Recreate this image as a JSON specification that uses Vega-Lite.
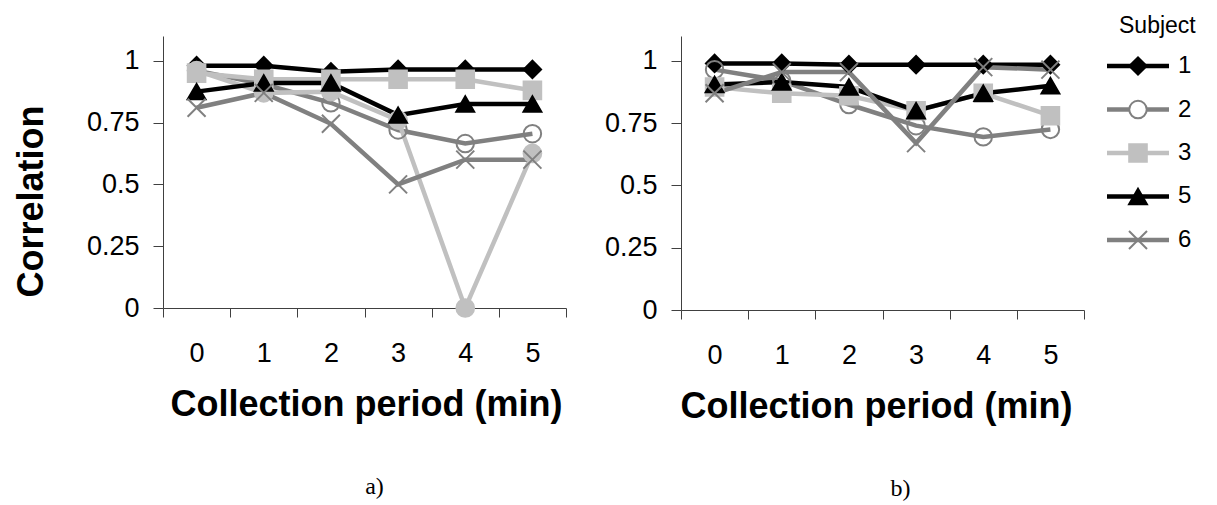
{
  "$schema": "https://vega.github.io/schema/vega-lite/v6.json",
  "background": "white",
  "padding": {"left": 13, "top": 15, "right": 5, "bottom": 5},
  "bounds": "flush",
  "spacing": 115,
  "datasets": {
    "corr": [
      {"panel": "a", "subject": "1", "period": 0, "r": 0.98},
      {"panel": "a", "subject": "1", "period": 1, "r": 0.98},
      {"panel": "a", "subject": "1", "period": 2, "r": 0.955},
      {"panel": "a", "subject": "1", "period": 3, "r": 0.965},
      {"panel": "a", "subject": "1", "period": 4, "r": 0.965},
      {"panel": "a", "subject": "1", "period": 5, "r": 0.965},
      {"panel": "a", "subject": "2", "period": 0, "r": 0.96},
      {"panel": "a", "subject": "2", "period": 1, "r": 0.905},
      {"panel": "a", "subject": "2", "period": 2, "r": 0.83},
      {"panel": "a", "subject": "2", "period": 3, "r": 0.72},
      {"panel": "a", "subject": "2", "period": 4, "r": 0.665},
      {"panel": "a", "subject": "2", "period": 5, "r": 0.705},
      {"panel": "a", "subject": "3", "period": 0, "r": 0.95},
      {"panel": "a", "subject": "3", "period": 1, "r": 0.925},
      {"panel": "a", "subject": "3", "period": 2, "r": 0.925},
      {"panel": "a", "subject": "3", "period": 3, "r": 0.925},
      {"panel": "a", "subject": "3", "period": 4, "r": 0.925},
      {"panel": "a", "subject": "3", "period": 5, "r": 0.88},
      {"panel": "a", "subject": "4", "period": 0, "r": 0.96},
      {"panel": "a", "subject": "4", "period": 1, "r": 0.87},
      {"panel": "a", "subject": "4", "period": 2, "r": 0.875},
      {"panel": "a", "subject": "4", "period": 3, "r": 0.76},
      {"panel": "a", "subject": "4", "period": 4, "r": 0.0},
      {"panel": "a", "subject": "4", "period": 5, "r": 0.625},
      {"panel": "a", "subject": "5", "period": 0, "r": 0.875},
      {"panel": "a", "subject": "5", "period": 1, "r": 0.91},
      {"panel": "a", "subject": "5", "period": 2, "r": 0.91},
      {"panel": "a", "subject": "5", "period": 3, "r": 0.78},
      {"panel": "a", "subject": "5", "period": 4, "r": 0.825},
      {"panel": "a", "subject": "5", "period": 5, "r": 0.825},
      {"panel": "a", "subject": "6", "period": 0, "r": 0.81},
      {"panel": "a", "subject": "6", "period": 1, "r": 0.87},
      {"panel": "a", "subject": "6", "period": 2, "r": 0.745},
      {"panel": "a", "subject": "6", "period": 3, "r": 0.5},
      {"panel": "a", "subject": "6", "period": 4, "r": 0.6},
      {"panel": "a", "subject": "6", "period": 5, "r": 0.6},
      {"panel": "b", "subject": "1", "period": 0, "r": 0.99},
      {"panel": "b", "subject": "1", "period": 1, "r": 0.99},
      {"panel": "b", "subject": "1", "period": 2, "r": 0.985},
      {"panel": "b", "subject": "1", "period": 3, "r": 0.985},
      {"panel": "b", "subject": "1", "period": 4, "r": 0.985},
      {"panel": "b", "subject": "1", "period": 5, "r": 0.985},
      {"panel": "b", "subject": "2", "period": 0, "r": 0.965},
      {"panel": "b", "subject": "2", "period": 1, "r": 0.92},
      {"panel": "b", "subject": "2", "period": 2, "r": 0.825},
      {"panel": "b", "subject": "2", "period": 3, "r": 0.74},
      {"panel": "b", "subject": "2", "period": 4, "r": 0.695},
      {"panel": "b", "subject": "2", "period": 5, "r": 0.725},
      {"panel": "b", "subject": "3", "period": 0, "r": 0.895},
      {"panel": "b", "subject": "3", "period": 1, "r": 0.87},
      {"panel": "b", "subject": "3", "period": 2, "r": 0.86},
      {"panel": "b", "subject": "3", "period": 3, "r": 0.8},
      {"panel": "b", "subject": "3", "period": 4, "r": 0.87},
      {"panel": "b", "subject": "3", "period": 5, "r": 0.78},
      {"panel": "b", "subject": "5", "period": 0, "r": 0.905},
      {"panel": "b", "subject": "5", "period": 1, "r": 0.915},
      {"panel": "b", "subject": "5", "period": 2, "r": 0.895},
      {"panel": "b", "subject": "5", "period": 3, "r": 0.8},
      {"panel": "b", "subject": "5", "period": 4, "r": 0.87},
      {"panel": "b", "subject": "5", "period": 5, "r": 0.9},
      {"panel": "b", "subject": "6", "period": 0, "r": 0.87},
      {"panel": "b", "subject": "6", "period": 1, "r": 0.955},
      {"panel": "b", "subject": "6", "period": 2, "r": 0.955},
      {"panel": "b", "subject": "6", "period": 3, "r": 0.67},
      {"panel": "b", "subject": "6", "period": 4, "r": 0.975},
      {"panel": "b", "subject": "6", "period": 5, "r": 0.965}
    ],
    "legend": [
      {"subject": "1"}, {"subject": "2"}, {"subject": "3"}, {"subject": "5"}, {"subject": "6"}
    ]
  },
  "resolve": {"scale": {"x": "independent", "y": "independent"}},
  "hconcat": [
    {
      "width": 403,
      "height": 272,
      "data": {"name": "corr"},
      "transform": [{"filter": "datum.panel == 'a'"}],
      "title": {"text": "a)", "orient": "bottom", "frame": "group", "anchor": "middle", "font": "Liberation Serif", "fontSize": 24, "fontWeight": "normal", "offset": 53, "dx": 10, "color": "#000"},
      "encoding": {
        "x": {"field": "period", "type": "ordinal", "scale": {"type": "band", "paddingInner": 0, "paddingOuter": 0},
              "axis": {"title": "Collection period (min)", "tickBand": "extent", "titleX": 203, "titleY": 107, "titleBaseline": "alphabetic"}},
        "y": {"field": "r", "type": "quantitative", "scale": {"domain": [0, 1.1], "nice": false},
              "axis": {"title": "Correlation", "values": [0, 0.25, 0.5, 0.75, 1], "format": ".2~f", "titleX": -121, "titleY": 165, "titleBaseline": "alphabetic", "titleAngle": -90, "titleAlign": "center"}}
      },
      "layer": [
        {"mark": {"type": "line"},
         "encoding": {
           "color": {"field": "subject", "type": "nominal", "scale": {"domain": ["1","2","3","4","5","6"], "range": ["#000000","#808080","#c0c0c0","#c0c0c0","#000000","#808080"]}, "legend": null},
           "strokeWidth": {"field": "subject", "type": "ordinal", "scale": {"domain": ["1","2","3","4","5","6"], "range": [4.5, 4.5, 4.5, 1.5, 1.5, 1.5]}, "legend": null}
         }},
        {"mark": {"type": "point", "opacity": 1, "strokeWidth": 2},
         "encoding": {
           "shape": {"field": "subject", "type": "nominal", "scale": {"domain": ["1","2","3","4","5","6"], "range": ["diamond","circle","square","circle","triangle-up","M-1,-1L1,1M1,-1L-1,1"]}, "legend": null},
           "fill": {"field": "subject", "type": "nominal", "scale": {"domain": ["1","2","3","4","5","6"], "range": ["#000000","transparent","#c0c0c0","#c0c0c0","#000000","transparent"]}, "legend": null},
           "stroke": {"field": "subject", "type": "nominal", "scale": {"domain": ["1","2","3","4","5","6"], "range": ["#000000","#808080","#c0c0c0","#c0c0c0","#000000","#808080"]}, "legend": null},
           "size": {"field": "subject", "type": "ordinal", "scale": {"domain": ["1","2","3","4","5","6"], "range": [300, 324, 324, 289, 256, 361]}, "legend": null}
         }}
      ]
    },
    {
      "bounds": "flush",
      "spacing": 23,
      "resolve": {"scale": {"x": "independent", "y": "independent"}},
      "hconcat": [
        {
          "width": 403,
          "height": 274,
          "data": {"name": "corr"},
          "transform": [{"filter": "datum.panel == 'b'"}],
          "title": {"text": "b)", "orient": "bottom", "frame": "group", "anchor": "middle", "font": "Liberation Serif", "fontSize": 24, "fontWeight": "normal", "offset": 53, "dx": 18, "color": "#000"},
          "encoding": {
            "x": {"field": "period", "type": "ordinal", "scale": {"type": "band", "paddingInner": 0, "paddingOuter": 0},
                  "axis": {"title": "Collection period (min)", "tickBand": "extent", "titleX": 195, "titleY": 107, "titleBaseline": "alphabetic"}},
            "y": {"field": "r", "type": "quantitative", "scale": {"domain": [0, 1.1], "nice": false},
                  "axis": {"title": null, "values": [0, 0.25, 0.5, 0.75, 1], "format": ".2~f"}}
          },
          "layer": [
            {"mark": {"type": "line"},
             "encoding": {
               "color": {"field": "subject", "type": "nominal", "scale": {"domain": ["1","2","3","4","5","6"], "range": ["#000000","#808080","#c0c0c0","#c0c0c0","#000000","#808080"]}, "legend": null},
               "strokeWidth": {"field": "subject", "type": "ordinal", "scale": {"domain": ["1","2","3","4","5","6"], "range": [4.5, 4.5, 4.5, 1.5, 1.5, 1.5]}, "legend": null}
             }},
            {"mark": {"type": "point", "opacity": 1, "strokeWidth": 2},
             "encoding": {
               "shape": {"field": "subject", "type": "nominal", "scale": {"domain": ["1","2","3","4","5","6"], "range": ["diamond","circle","square","circle","triangle-up","M-1,-1L1,1M1,-1L-1,1"]}, "legend": null},
               "fill": {"field": "subject", "type": "nominal", "scale": {"domain": ["1","2","3","4","5","6"], "range": ["#000000","transparent","#c0c0c0","#c0c0c0","#000000","transparent"]}, "legend": null},
               "stroke": {"field": "subject", "type": "nominal", "scale": {"domain": ["1","2","3","4","5","6"], "range": ["#000000","#808080","#c0c0c0","#c0c0c0","#000000","#808080"]}, "legend": null},
               "size": {"field": "subject", "type": "ordinal", "scale": {"domain": ["1","2","3","4","5","6"], "range": [300, 324, 324, 289, 256, 361]}, "legend": null}
             }}
          ]
        },
        {
          "width": 62,
          "height": 234,
          "data": {"name": "legend"},
          "title": {"text": "Subject", "orient": "top", "anchor": "start", "frame": "group", "dx": 12, "fontSize": 23, "fontWeight": "normal", "baseline": "alphabetic", "offset": -20, "color": "#000", "font": "Liberation Sans"},
          "encoding": {
            "y": {"field": "subject", "type": "ordinal", "scale": {"type": "point", "padding": 0.69, "domain": ["1","2","3","5","6"]}, "axis": null}
          },
          "layer": [
            {"mark": {"type": "rule"},
             "encoding": {
               "x": {"datum": 0, "type": "quantitative", "scale": {"domain": [0, 1]}, "axis": null},
               "x2": {"datum": 1},
               "color": {"field": "subject", "type": "nominal", "scale": {"domain": ["1","2","3","4","5","6"], "range": ["#000000","#808080","#c0c0c0","#c0c0c0","#000000","#808080"]}, "legend": null},
               "strokeWidth": {"field": "subject", "type": "ordinal", "scale": {"domain": ["1","2","3","4","5","6"], "range": [4.5, 4.5, 4.5, 1.5, 1.5, 1.5]}, "legend": null}
             }},
            {"mark": {"type": "point", "opacity": 1, "strokeWidth": 2},
             "encoding": {
               "x": {"datum": 0.5, "type": "quantitative"},
               "shape": {"field": "subject", "type": "nominal", "scale": {"domain": ["1","2","3","4","5","6"], "range": ["diamond","circle","square","circle","triangle-up","M-1,-1L1,1M1,-1L-1,1"]}, "legend": null},
               "fill": {"condition": {"test": "datum.subject == '2'", "value": "#ffffff"}, "field": "subject", "type": "nominal", "scale": {"domain": ["1","2","3","4","5","6"], "range": ["#000000","transparent","#c0c0c0","#c0c0c0","#000000","transparent"]}, "legend": null},
               "stroke": {"field": "subject", "type": "nominal", "scale": {"domain": ["1","2","3","4","5","6"], "range": ["#000000","#808080","#c0c0c0","#c0c0c0","#000000","#808080"]}, "legend": null},
               "size": {"field": "subject", "type": "ordinal", "scale": {"domain": ["1","2","3","4","5","6"], "range": [300, 324, 324, 289, 256, 361]}, "legend": null}
             }},
            {"mark": {"type": "text", "align": "left", "baseline": "middle", "dx": 9, "fontSize": 24, "color": "#000", "font": "Liberation Sans"},
             "encoding": {
               "x": {"datum": 1, "type": "quantitative"},
               "text": {"field": "subject", "type": "nominal"}
             }}
          ]
        }
      ]
    }
  ],
  "config": {
    "view": {"stroke": null},
    "font": "Liberation Sans",
    "axis": {"grid": false, "domainColor": "#404040", "tickColor": "#404040", "labelColor": "#000000", "titleColor": "#000000", "labelFont": "Liberation Sans", "labelFontSize": 27, "titleFont": "Liberation Sans", "titleFontSize": 36, "titleFontWeight": "bold", "domainWidth": 1, "tickWidth": 1},
    "axisX": {"tickSize": 9, "labelPadding": 23, "labelAngle": 0},
    "axisY": {"tickSize": 10, "labelPadding": 14}
  }
}
